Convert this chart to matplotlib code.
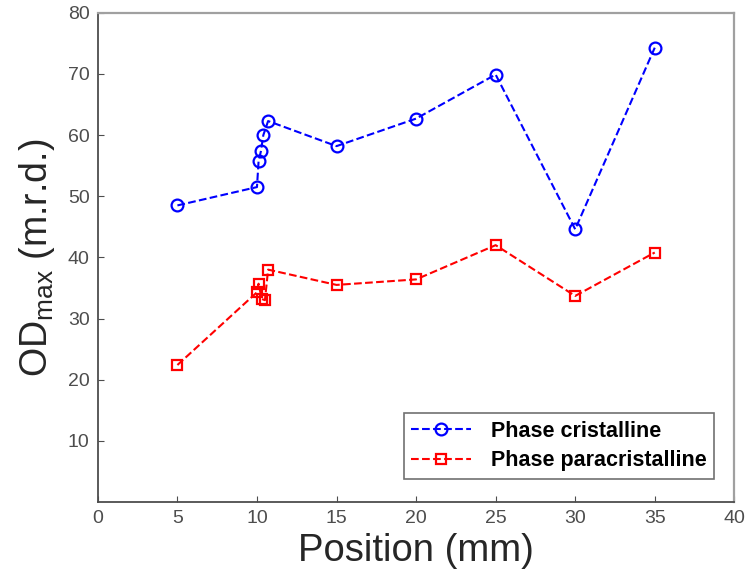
import matplotlib.pyplot as plt

plt.rcParams['font.family'] = ['Liberation Sans', 'DejaVu Sans']

# Valeurs
pos_crist = [5, 10, 10.1, 10.25, 10.4, 10.7, 15, 20, 25, 30, 35]
od_crist = [48.5, 51.5, 55.7, 57.4, 60.0, 62.3, 58.2, 62.7, 69.9, 44.6, 74.3]

pos_para = [5, 10, 10.1, 10.3, 10.5, 10.7, 15, 20, 25, 30, 35]
od_para = [22.4, 34.3, 35.7, 33.2, 33.0, 38.0, 35.5, 36.4, 42.0, 33.7, 40.8]

x_ticks = [0, 5, 10, 15, 20, 25, 30, 35, 40]
y_ticks = [10, 20, 30, 40, 50, 60, 70, 80]

fig = plt.figure(figsize=(7.47, 5.83), dpi=100)
ax = fig.add_axes([0.131, 0.139, 0.852, 0.839])

ax.plot(pos_crist, od_crist, '--o', color='blue', mfc='none', ms=8.5, mew=1.6, lw=1.5,
        label='Phase cristalline')
ax.plot(pos_para, od_para, '--s', color='red', mfc='none', ms=7.5, mew=1.6, lw=1.5,
        label='Phase paracristalline')

ax.set_xlim(0, 40)
ax.set_ylim(0, 80)
ax.set_xticks(x_ticks)
ax.set_yticks(y_ticks)
ax.tick_params(direction='in', labelsize=14, labelcolor='#4d4d4d', color='#4d4d4d',
               length=4, pad=6)
for side in ['top', 'right']:
    ax.spines[side].set_color('#a0a0a0')
    ax.spines[side].set_linewidth(1.6)
for side in ['left', 'bottom']:
    ax.spines[side].set_color('#4d4d4d')
    ax.spines[side].set_linewidth(1.3)

ax.set_xlabel('Position (mm)', fontsize=27.5, labelpad=4, color='#262626')
ax.set_ylabel(r'OD$_{\mathregular{max}}$ (m.r.d.)', fontsize=27, labelpad=8, color='#262626')

leg = ax.legend(loc='lower right', bbox_to_anchor=(0.985, 0.025), fancybox=False,
                edgecolor='#4d4d4d', prop={'weight': 'bold', 'size': 15.5},
                handlelength=2.8, borderpad=0.35, labelspacing=0.4, handletextpad=0.9)
leg.get_frame().set_linewidth(1.2)

fig.savefig('out.png', dpi=100)
